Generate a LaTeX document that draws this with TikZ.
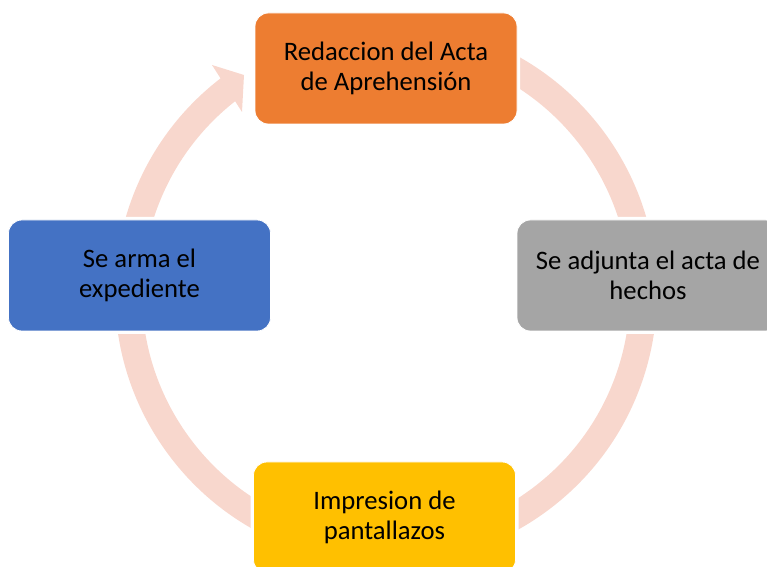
\documentclass[tikz,border=0pt]{standalone}
\usepackage{fontspec}
\setmainfont{Carlito}
\definecolor{ringc}{HTML}{F8D7CD}
\definecolor{orangec}{HTML}{ED7D31}
\definecolor{grayc}{HTML}{A5A5A5}
\definecolor{yellowc}{HTML}{FFC000}
\definecolor{bluec}{HTML}{4472C4}
\tikzset{
    stepbox/.style={rounded corners=10pt, minimum width=196.5pt, minimum height=83.25pt,
        inner sep=0pt, align=center, font=\fontsize{20}{22}\selectfont,
        draw=white, line width=0.6pt, preaction={draw=white, line width=4.5pt}},
    ring/.style={draw=ringc, line width=20.25pt},
}
\begin{document}
\begin{tikzpicture}[x=0.75pt, y=0.75pt]
    \useasboundingbox (0,0) rectangle (767,567);
    \clip (0,0) rectangle (767,567);
    \coordinate (c) at (386,274);
    % ring with arrow into the top box
    \draw[ring] (c) ++(127:257.5) arc[start angle=127, end angle=479, radius=257.5];
    \fill[ringc] (212,502) -- (244,492) -- (242,455) -- cycle;
    % boxes
    \node[stepbox, fill=orangec] (acta) at (386,498.5) {Redaccion del Acta\\de Aprehensión};
    \node[stepbox, fill=grayc] (hechos) at (648,291.5) {Se adjunta el acta de\\hechos};
    \node[stepbox, fill=yellowc] (impresion) at (384.5,49.5) {Impresion de\\pantallazos};
    \node[stepbox, fill=bluec] (expediente) at (139.5,291.5) {Se arma el\\expediente};
\end{tikzpicture}
\end{document}
